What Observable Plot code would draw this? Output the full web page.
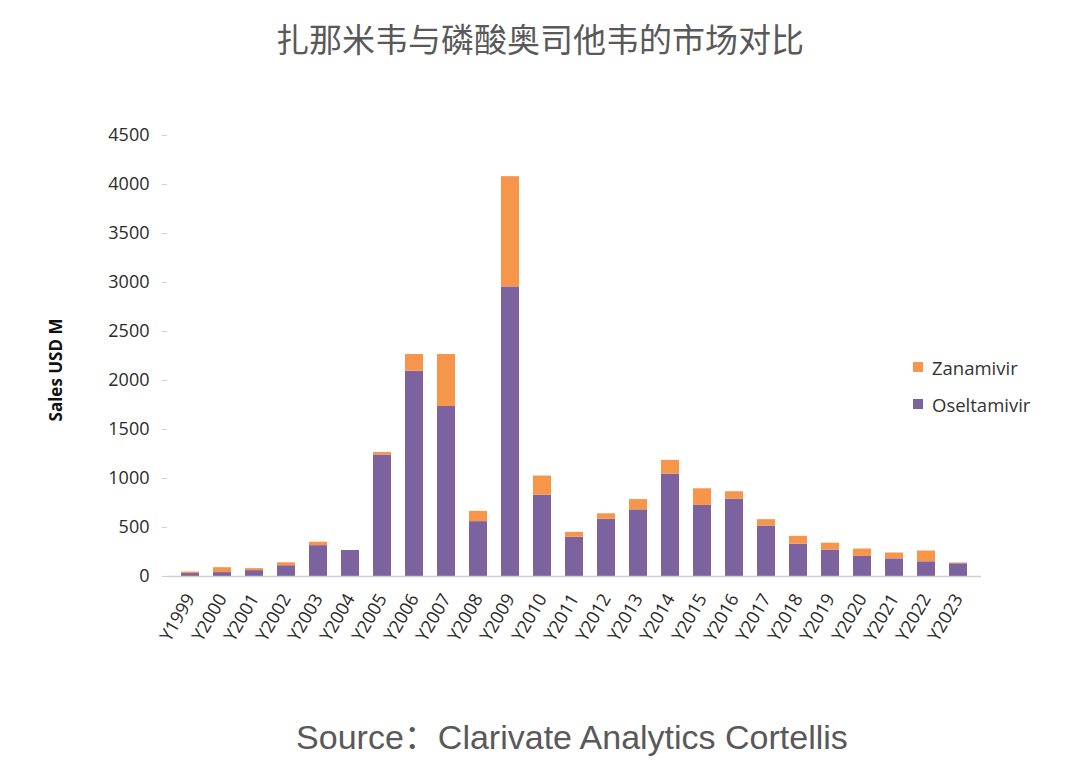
<!DOCTYPE html>
<html>
<head>
<meta charset="utf-8">
<script src="https://cdn.jsdelivr.net/npm/d3@7"></script>
<script src="https://cdn.jsdelivr.net/npm/@observablehq/plot@0.6"></script>
<style>
  html, body { margin: 0; padding: 0; background: #fff; }
  #wrap { position: relative; width: 1080px; height: 775px; overflow: hidden; background: #fff; }
  #title { position: absolute; left: 0; top: 15px; width: 1080px; text-align: center;
    font-family: "Noto Sans CJK SC", sans-serif; font-size: 33px; color: #595959; line-height: 46px; }
  #chart { position: absolute; left: 0; top: 80px; }
  #source { position: absolute; left: 64px; top: 713px; width: 1016px; text-align: center;
    font-family: "Liberation Sans", "Noto Sans CJK SC", sans-serif; font-size: 34px; color: #595959; line-height: 48px; }
  #legend { position: absolute; left: 913px; top: 353px; font-family: "Open Sans", sans-serif; font-size: 18.5px; color: #333; }
  #legend .item { display: flex; align-items: center; height: 28px; margin-bottom: 9px; }
  #legend .sw { width: 10px; height: 10px; margin-right: 9px; }
</style>
</head>
<body>
<div id="wrap">
  <div id="title">扎那米韦与磷酸奥司他韦的市场对比</div>
  <div id="chart"></div>
  <div id="legend"></div>
  <div id="source">Source：Clarivate Analytics Cortellis</div>
</div>
<script>
const years = ["Y1999","Y2000","Y2001","Y2002","Y2003","Y2004","Y2005","Y2006","Y2007","Y2008","Y2009","Y2010","Y2011","Y2012","Y2013","Y2014","Y2015","Y2016","Y2017","Y2018","Y2019","Y2020","Y2021","Y2022","Y2023"];
const oseltamivir = [30, 40, 60, 110, 315, 265, 1240, 2095, 1735, 560, 2955, 830, 400, 585, 680, 1045, 725, 790, 515, 330, 270, 205, 180, 150, 130];
const zanamivir   = [15, 50, 20, 30, 35, 0, 25, 170, 530, 105, 1125, 195, 50, 55, 105, 140, 170, 75, 65, 80, 70, 75, 60, 110, 8];
const seriesNames = ["Zanamivir", "Oseltamivir"];
const seriesColors = ["#F7964A", "#7D62A0"];
const yTicks = [0, 500, 1000, 1500, 2000, 2500, 3000, 3500, 4000, 4500];

const rows = [];
years.forEach((y, i) => {
  rows.push({year: y, series: "Oseltamivir", value: oseltamivir[i]});
  rows.push({year: y, series: "Zanamivir", value: zanamivir[i]});
});

const chart = Plot.plot({
  width: 1080,
  height: 620,
  marginLeft: 167,
  marginRight: 99,
  marginTop: 55,
  marginBottom: 124,
  style: {fontFamily: "Open Sans, sans-serif", fontSize: "18px", color: "#333", background: "#fff"},
  x: {domain: years, paddingInner: 0.45, paddingOuter: 0.225},
  y: {domain: [0, 4500]},
  color: {domain: seriesNames, range: seriesColors},
  marks: [
    Plot.axisY({ticks: yTicks, tickFormat: d => String(d), tickSize: 5, tickPadding: 13, stroke: "#d0d0d0", line: true,
      label: "Sales USD M", labelAnchor: "center", labelOffset: 118, fontSize: 18, fill: "#2a2a2a"}),
    Plot.axisX({tickSize: 0, tickPadding: 19, tickRotate: -60, label: null, fontSize: 18, fill: "#2a2a2a"}),
    Plot.barY(rows, Plot.stackY({x: "year", y: "value", fill: "series", order: ["Oseltamivir", "Zanamivir"]})),
    Plot.ruleY([0], {stroke: "#d0d0d0", strokeWidth: 1.5})
  ]
});
document.getElementById("chart").appendChild(chart);
// y-axis label: bold, no arrow, nudged down
chart.querySelectorAll("text").forEach(t => {
  if (t.textContent.startsWith("Sales USD M")) {
    t.textContent = "Sales USD M";
    t.setAttribute("font-weight", "bold");
    t.setAttribute("font-size", "17");
    t.setAttribute("fill", "#111");
    const tr = t.getAttribute("transform") || "";
    t.setAttribute("transform", tr + " translate(-14,0)");
  }
});

const legend = document.getElementById("legend");
seriesNames.forEach((name, i) => {
  const item = document.createElement("div");
  item.className = "item";
  const sw = document.createElement("div");
  sw.className = "sw";
  sw.style.background = seriesColors[i];
  const lab = document.createElement("span");
  lab.textContent = name;
  item.appendChild(sw); item.appendChild(lab);
  legend.appendChild(item);
});
</script>
</body>
</html>
